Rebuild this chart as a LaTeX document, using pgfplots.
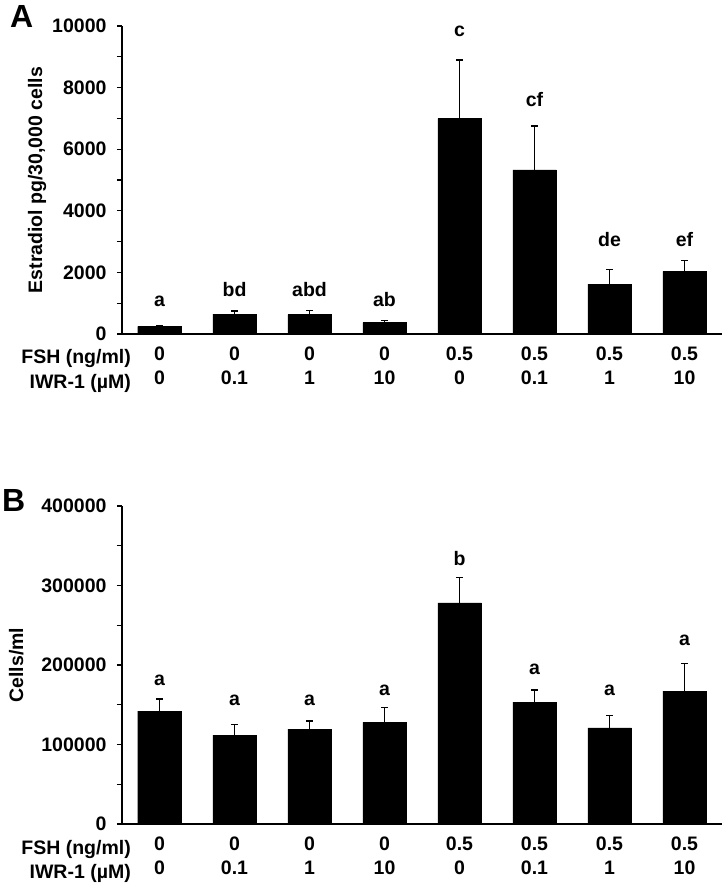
\documentclass[border=0pt]{standalone}
\usepackage{fontspec}
\setmainfont{Liberation Sans}
\usepackage{pgfplots}
\pgfplotsset{compat=1.18}
\usepackage{pgfplotstable}

\pgfplotstableread{
x y err
0 249 35
1 649 97
2 627 141
3 368 75
4 6995 1902
5 5330 1427
6 1622 464
7 2032 357
}\dataA

\pgfplotstableread{
x y err
0 142000 15100
1 111800 13000
2 119300 10100
3 127700 18500
4 278200 31900
5 153400 15100
6 121000 15600
7 167200 34900
}\dataB

\newcommand{\lbl}{\fontsize{19.5}{24}\selectfont\bfseries}

\pgfplotsset{
 mystyle/.style={
  scale only axis, width=600pt,
  xmin=-0.5, xmax=7.5, ymin=0,
  axis x line*=bottom, axis y line*=left,
  axis line style={line width=1.3pt},
  tick align=outside,
  tick style={line width=1.3pt, black},
  major tick length=5pt, minor tick length=5pt,
  minor y tick num=1,
  xtick={0,...,7},
  xticklabels={{0\\0},{0\\0.1},{0\\1},{0\\10},{0.5\\0},{0.5\\0.1},{0.5\\1},{0.5\\10}},
  x tick style={draw=none},
  extra x ticks={-0.5,0.5,1.5,2.5,3.5,4.5,5.5,6.5,7.5},
  extra x tick labels={{},{},{},{},{},{},{},{},{}},
  extra x tick style={tick style={draw=black, line width=1.3pt}, major tick length=6pt},
  xticklabel style={align=center, font=\lbl, yshift=-4pt},
  yticklabel={\pgfmathprintnumber[fixed,precision=0,assume math mode=true,1000 sep={}]{\tick}},
  yticklabel style={font=\lbl, xshift=-7pt},
  scaled y ticks=false,
  ylabel style={anchor=base, font=\lbl},
  clip=false,
 },
 mybar/.style={ybar, bar width=0.58, fill=black, draw=black,
  error bars/.cd, y dir=plus, y explicit,
  error bar style={line width=1.3pt, black},
  error mark options={rotate=90, mark size=3.5pt, line width=1.3pt, black}},
}

\begin{document}
\begin{tikzpicture}
\useasboundingbox (-122pt,-554pt) rectangle (605pt,334pt);

% Panel A
\begin{axis}[mystyle, height=308pt, ymax=10000,
  ytick={0,2000,...,10000},
  ylabel={Estradiol pg/30,000 cells},
  ylabel style={at={(axis description cs:-0.1333,0.5)}}]
\addplot[mybar] table[x=x, y=y, y error=err] {\dataA};
\node[font=\lbl, anchor=base] at (axis cs:0,900) {a};
\node[font=\lbl, anchor=base] at (axis cs:1,1220) {bd};
\node[font=\lbl, anchor=base] at (axis cs:2,1220) {abd};
\node[font=\lbl, anchor=base] at (axis cs:3,900) {ab};
\node[font=\lbl, anchor=base] at (axis cs:4,9650) {c};
\node[font=\lbl, anchor=base] at (axis cs:5,7380) {cf};
\node[font=\lbl, anchor=base] at (axis cs:6,2840) {de};
\node[font=\lbl, anchor=base] at (axis cs:7,2840) {ef};
\node[font=\lbl, anchor=base east, inner sep=0] at ([xshift=9pt,yshift=-30pt]rel axis cs:0,0) {FSH (ng/ml)};
\node[font=\lbl, anchor=base east, inner sep=0] at ([xshift=9pt,yshift=-54pt]rel axis cs:0,0) {IWR-1 (µM)};
\end{axis}
\node[anchor=north west, inner sep=0, font=\fontsize{32}{32}\selectfont\bfseries] at (-112pt,329pt) {A};

% Panel B
\begin{axis}[mystyle, at={(0,-490pt)}, height=318pt, ymax=400000,
  ytick={0,100000,...,400000},
  ylabel={Cells/ml},
  ylabel style={at={(axis description cs:-0.165,0.5)}}]
\addplot[mybar] table[x=x, y=y, y error=err] {\dataB};
\node[font=\lbl, anchor=base] at (axis cs:0,174400) {a};
\node[font=\lbl, anchor=base] at (axis cs:1,149200) {a};
\node[font=\lbl, anchor=base] at (axis cs:2,149200) {a};
\node[font=\lbl, anchor=base] at (axis cs:3,161800) {a};
\node[font=\lbl, anchor=base] at (axis cs:4,325600) {b};
\node[font=\lbl, anchor=base] at (axis cs:5,187800) {a};
\node[font=\lbl, anchor=base] at (axis cs:6,161800) {a};
\node[font=\lbl, anchor=base] at (axis cs:7,224800) {a};
\node[font=\lbl, anchor=base east, inner sep=0] at ([xshift=9pt,yshift=-30pt]rel axis cs:0,0) {FSH (ng/ml)};
\node[font=\lbl, anchor=base east, inner sep=0] at ([xshift=9pt,yshift=-54pt]rel axis cs:0,0) {IWR-1 (µM)};
\end{axis}
\node[anchor=north west, inner sep=0, font=\fontsize{32}{32}\selectfont\bfseries] at (-120pt,-155pt) {B};
\end{tikzpicture}
\end{document}
